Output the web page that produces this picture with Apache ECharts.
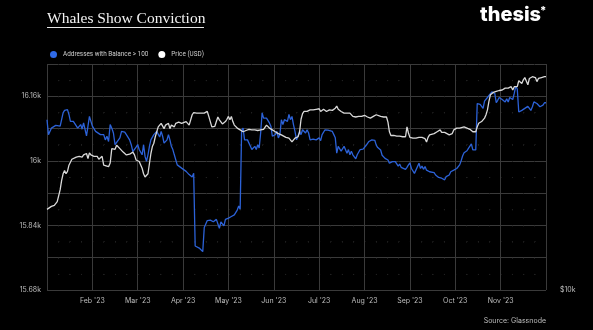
<!DOCTYPE html>
<html><head><meta charset="utf-8">
<script src="https://cdn.jsdelivr.net/npm/echarts@6/dist/echarts.min.js"></script>
<style>html,body{margin:0;padding:0;background:#000}#c{width:593px;height:330px}</style>
</head><body><div id="c"></div>
<script>
// ---- data (year 2023, dates as MM-DD) ----
const monthLabels = ["Jan '23","Feb '23","Mar '23","Apr '23","May '23","Jun '23","Jul '23","Aug '23","Sep '23","Oct '23","Nov '23","Dec '23"];
const seriesNames = ["Addresses with Balance > 100", "Price (USD)"];
const addressData = [
['01-01',16102],['01-02',16065],['01-04',16081],['01-07',16088],['01-10',16086],['01-12',16119],['01-13',16125],['01-15',16127],['01-16',16115],['01-17',16098],['01-19',16098],['01-22',16081],['01-24',16090],['01-25',16079],['01-26',16094],['01-28',16062],['01-30',16110],['01-31',16106],
['02-01',16086],['02-03',16073],['02-04',16073],['02-06',16065],['02-08',16065],['02-09',16052],['02-10',16061],['02-11',16048],['02-12',16090],['02-13',16081],['02-14',16069],['02-15',16040],['02-16',16046],['02-18',16057],['02-19',16073],['02-21',16071],['02-22',16065],['02-24',16052],['02-25',16040],['02-26',16023],['02-27',16019],['02-28',16034],
['03-01',16040],['03-02',16028],['03-04',16015],['03-05',16040],['03-06',16011],['03-07',15999],['03-08',16015],['03-09',16036],['03-10',16052],['03-12',16065],['03-13',16069],['03-14',16073],['03-16',16059],['03-17',16073],['03-18',16061],['03-19',16044],['03-21',16052],['03-22',16065],['03-23',16052],['03-24',16036],['03-25',16028],['03-26',16015],['03-28',15990],['03-31',15982],
['04-01',15978],['04-03',15974],['04-05',15966],['04-07',15960],['04-08',15969],['04-09',15789],['04-12',15783],['04-14',15775],['04-15',15835],['04-17',15852],['04-19',15853],['04-21',15849],['04-23',15855],['04-25',15833],['04-26',15849],['04-28',15839],['04-29',15855],
['05-01',15858],['05-03',15862],['05-05',15866],['05-07',15878],['05-08',15888],['05-09',15880],['05-10',16075],['05-11',16081],['05-12',16052],['05-13',16048],['05-14',16052],['05-16',16036],['05-17',16028],['05-19',16036],['05-20',16028],['05-21',16040],['05-22',16032],['05-23',16069],['05-24',16119],['05-25',16106],['05-27',16106],['05-28',16110],['05-29',16094],['05-30',16086],['05-31',16061],
['06-02',16065],['06-03',16073],['06-04',16057],['06-05',16065],['06-06',16102],['06-07',16090],['06-08',16102],['06-10',16098],['06-11',16115],['06-12',16102],['06-13',16110],['06-14',16090],['06-15',16073],['06-16',16052],['06-17',16061],['06-18',16073],['06-19',16065],['06-20',16077],['06-22',16069],['06-23',16077],['06-24',16069],['06-25',16052],['06-27',16054],['06-29',16052],
['07-01',16057],['07-02',16050],['07-03',16065],['07-05',16077],['07-06',16079],['07-07',16076],['07-08',16077],['07-10',16073],['07-11',16065],['07-12',16057],['07-13',16019],['07-14',16036],['07-15',16034],['07-16',16024],['07-18',16036],['07-19',16032],['07-20',16019],['07-21',16028],['07-22',16015],['07-23',16024],['07-24',16015],['07-26',16005],['07-27',16015],['07-28',16015],['07-29',16028],['07-30',16032],['07-31',16029],
['08-02',16038],['08-04',16048],['08-05',16044],['08-06',16052],['08-07',16048],['08-08',16051],['08-09',16039],['08-10',16033],['08-12',16027],['08-13',16014],['08-14',16010],['08-15',16006],['08-16',16009],['08-17',16002],['08-18',15994],['08-20',15998],['08-21',15994],['08-22',15998],['08-23',15994],['08-24',15987],['08-25',15992],['08-26',15984],['08-27',15986],['08-29',15979],['08-30',15984],['08-31',15990],
['09-01',15995],['09-02',15981],['09-03',15977],['09-04',15969],['09-05',15973],['09-07',15994],['09-08',15981],['09-09',15987],['09-10',15979],['09-11',15986],['09-12',15977],['09-13',15976],['09-14',15973],['09-15',15977],['09-17',15971],['09-18',15965],['09-19',15961],['09-20',15959],['09-21',15959],['09-22',15957],['09-23',15961],['09-24',15953],['09-25',15961],['09-27',15965],['09-28',15973],['09-29',15969],['09-30',15977],
['10-01',15979],['10-02',15981],['10-03',15984],['10-04',15990],['10-05',16000],['10-06',16012],['10-07',16020],['10-08',16023],['10-09',16025],['10-10',16031],['10-11',16035],['10-12',16042],['10-13',16027],['10-14',16023],['10-15',16027],['10-16',16142],['10-17',16142],['10-18',16140],['10-19',16144],['10-20',16130],['10-21',16148],['10-22',16150],['10-23',16157],['10-24',16160],['10-26',16171],['10-27',16171],['10-28',16167],['10-29',16144],['10-30',16150],['10-31',16157],
['11-02',16152],['11-03',16150],['11-04',16146],['11-05',16154],['11-06',16146],['11-07',16157],['11-08',16160],['11-09',16152],['11-10',16167],['11-11',16185],['11-12',16178],['11-13',16121],['11-14',16119],['11-15',16125],['11-16',16121],['11-17',16130],['11-18',16127],['11-19',16135],['11-20',16130],['11-21',16125],['11-22',16134],['11-23',16146],['11-25',16142],['11-26',16142],['11-27',16134],['11-28',16130],['11-29',16138],['11-30',16144],['12-01',16144]
];
const priceData = [
['01-01',16400],['01-04',16700],['01-06',16800],['01-08',17200],['01-10',18500],['01-11',19600],['01-12',20400],['01-13',20800],['01-14',20400],['01-15',20700],['01-16',21500],['01-18',22300],['01-19',22400],['01-21',22600],['01-22',22400],['01-23',22700],['01-25',22600],['01-26',22900],['01-27',22700],['01-28',23100],['01-29',22400],['01-30',23200],['01-31',22900],
['02-01',23000],['02-02',22700],['02-03',22900],['02-04',22700],['02-05',22300],['02-07',22700],['02-08',21500],['02-09',21300],['02-11',21300],['02-12',21800],['02-13',23800],['02-14',23900],['02-15',23700],['02-16',24300],['02-17',24200],['02-18',23800],['02-19',23600],['02-20',23300],['02-21',23200],['02-22',22900],['02-24',23000],['02-25',22900],['02-26',23300],['02-27',22900],['02-28',22200],
['03-02',22000],['03-03',21800],['03-04',21100],['03-05',20400],['03-06',20000],['03-07',19800],['03-08',20400],['03-10',23100],['03-11',24100],['03-12',24600],['03-13',25600],['03-14',26400],['03-15',27200],['03-16',27500],['03-17',27800],['03-19',26900],['03-20',27500],['03-21',27200],['03-22',27800],['03-23',26900],['03-24',27500],['03-26',27200],['03-27',27800],['03-28',28100],['03-29',28000],['03-30',28100],['03-31',27800],
['04-01',27500],['04-03',28100],['04-04',28100],['04-05',27500],['04-07',29300],['04-08',29700],['04-09',29900],['04-10',29600],['04-11',29900],['04-13',29600],['04-14',29900],['04-15',29600],['04-16',29500],['04-17',29900],['04-18',29000],['04-19',28100],['04-20',27200],['04-21',27500],['04-22',27300],['04-23',28100],['04-24',28900],['04-25',28400],['04-27',27700],['04-28',27800],['04-29',28100],['04-30',28500],
['05-01',29000],['05-02',28400],['05-03',29000],['05-04',28100],['05-05',27500],['05-07',27000],['05-08',27000],['05-09',26700],['05-10',26400],['05-11',26400],['05-12',26700],['05-13',26600],['05-15',26800],['05-16',26600],['05-17',26700],['05-18',26600],['05-19',26700],['05-20',26400],['05-21',26600],['05-23',26700],['05-24',26700],['05-25',26800],['05-26',27000],['05-27',27500],['05-28',27500],['05-29',27000],['05-30',27000],['05-31',26700],
['06-02',26400],['06-03',26300],['06-04',26100],['06-05',26200],['06-06',25900],['06-07',25700],['06-09',25500],['06-10',25600],['06-11',25400],['06-12',25100],['06-13',24800],['06-14',24800],['06-15',25400],['06-16',25100],['06-17',25600],['06-18',26300],['06-19',28500],['06-20',29500],['06-21',29900],['06-22',30200],['06-23',29900],['06-24',30200],['06-25',30200],['06-26',29900],['06-27',30200],['06-28',30100],['06-29',30300],['06-30',30500],
['07-01',30400],['07-02',29900],['07-03',30200],['07-04',30300],['07-05',30100],['07-06',29900],['07-07',29900],['07-08',30200],['07-09',30300],['07-10',30100],['07-12',30500],['07-13',30900],['07-14',30300],['07-15',30100],['07-16',29900],['07-17',29700],['07-18',29600],['07-20',29600],['07-21',29700],['07-22',29600],['07-23',29600],['07-24',29000],['07-25',29000],['07-26',28900],['07-28',29000],['07-29',28900],['07-30',29000],['07-31',29300],
['08-01',29200],['08-02',29100],['08-03',28900],['08-04',29000],['08-05',28700],['08-06',28700],['08-07',29000],['08-08',29300],['08-09',29300],['08-10',29100],['08-12',29000],['08-13',29000],['08-14',28900],['08-15',28700],['08-16',28900],['08-17',28000],['08-18',26400],['08-19',25800],['08-20',25700],['08-21',25800],['08-23',25700],['08-24',25600],['08-25',25700],['08-26',25700],['08-27',25600],['08-28',25700],['08-29',25600],['08-30',27200],['08-31',26200],
['09-01',25500],['09-02',25500],['09-03',25400],['09-04',25500],['09-05',25400],['09-07',25500],['09-08',25300],['09-09',25500],['09-10',25400],['09-11',25300],['09-12',24800],['09-13',25500],['09-14',25900],['09-15',25900],['09-17',26100],['09-18',26200],['09-19',26400],['09-20',26600],['09-21',26700],['09-22',26300],['09-23',26200],['09-24',26300],['09-25',26200],['09-27',25900],['09-28',26100],['09-29',26100],['09-30',26700],
['10-01',26700],['10-02',27000],['10-03',27200],['10-04',27000],['10-05',27300],['10-07',27200],['10-08',27000],['10-09',27000],['10-10',26700],['10-11',26800],['10-12',26600],['10-13',26400],['10-15',26400],['10-16',27200],['10-17',27800],['10-18',28100],['10-19',28100],['10-20',28300],['10-21',28700],['10-22',29300],['10-23',30200],['10-24',31800],['10-25',33100],['10-27',33600],['10-28',33400],['10-29',33800],['10-30',33800],['10-31',34000],
['11-02',34100],['11-03',34300],['11-04',34500],['11-05',34500],['11-06',34500],['11-07',34500],['11-08',34800],['11-09',34100],['11-10',34800],['11-12',34800],['11-13',36100],['11-14',36400],['11-15',35500],['11-16',36300],['11-17',36800],['11-18',37100],['11-19',35200],['11-20',36600],['11-21',36300],['11-22',37000],['11-24',36800],['11-25',35900],['11-26',36600],['11-27',37000],['11-28',36800],['11-29',37100],['11-30',37000],['12-01',37000]
];

// date (MM-DD, 2023) -> position on a month-indexed axis (each month equally wide)
function monthPos(md){
  const [m,d] = md.split('-').map(Number);
  const dim = new Date(2023, m, 0).getDate();
  return (m-1) + (d-1)/dim;
}
const toXY = arr => arr.map(([md,v]) => [monthPos(md), v]);

const labelColor = '#bdbdbd';
const gridColor = '#3a3a3a';
const chart = echarts.init(document.getElementById('c'), null, {renderer:'canvas'});
chart.setOption({
  backgroundColor:'#000',
  animation:false,
  title:{
    text:'Whales Show Conviction', left:47, top:11, padding:0,
    textStyle:{color:'#f2f2f2', fontFamily:'Liberation Serif', fontWeight:'normal', fontSize:15.5}
  },
  graphic:[
    {type:'line', shape:{x1:47,y1:27.5,x2:204,y2:27.5}, style:{stroke:'#e6e6e6', lineWidth:1}},
    {type:'text', left:480, top:5, style:{text:'thesis', fill:'#fff', font:'800 20px Inter'}},
    {type:'text', left:540, top:5, style:{text:'*', fill:'#fff', font:'800 11px Inter'}},
    {type:'text', right:47, top:317, style:{text:'Source: Glassnode', fill:labelColor, font:'7px Inter'}}
  ],
  legend:{
    left:45, top:46, icon:'circle', itemWidth:7, itemHeight:7, itemGap:10,
    textStyle:{color:'#cfcfcf', fontSize:6.4, fontFamily:'Roboto', padding:[0,0,0,1]},
    data:[{name:seriesNames[0], itemStyle:{color:'#2f6ae8'}}, {name:seriesNames[1], itemStyle:{color:'#ffffff'}}]
  },
  grid:{left:47, right:47, top:64, bottom:40},
  xAxis:{
    type:'value', min:0, max:11, interval:1,
    axisLine:{show:false}, axisTick:{show:false},
    splitLine:{show:true, lineStyle:{color:gridColor, width:1}},
    minorTick:{show:false, splitNumber:4},
    minorSplitLine:{show:true, lineStyle:{color:'#222', width:1, type:[1,15.15]}},
    axisLabel:{color:labelColor, fontSize:7, fontFamily:'Inter', margin:7,
      formatter:v => (v>=1 && v<=10) ? monthLabels[v] : ''}
  },
  yAxis:[
    {
      type:'value', min:15680, max:16240, interval:80, position:'left',
      axisLine:{show:false}, axisTick:{show:false},
      splitLine:{show:true, lineStyle:{color:gridColor, width:1}},
      minorTick:{show:false, splitNumber:2},
      minorSplitLine:{show:true, lineStyle:{color:'#222', width:1, type:[1,10.34]}},
      axisLabel:{color:labelColor, fontSize:7, fontFamily:'Inter', margin:6,
        formatter:v => ((v-15680)%160===0) ? (Math.round(v/10)/100)+'k' : ''}
    },
    {
      type:'log', logBase:10, min:10000, max:40000, position:'right',
      axisLine:{show:false}, axisTick:{show:false}, splitLine:{show:false},
      axisLabel:{color:labelColor, fontSize:7, fontFamily:'Inter', margin:14,
        formatter:v => Math.abs(v-10000)<1 ? '$10k' : ''}
    }
  ],
  series:[
    {name:seriesNames[0], type:'line', yAxisIndex:0, data:toXY(addressData), showSymbol:false,
     lineStyle:{color:'#2c62d8', width:1.3}, itemStyle:{color:'#2f6ae8'}},
    {name:seriesNames[1], type:'line', yAxisIndex:1, data:toXY(priceData), showSymbol:false,
     lineStyle:{color:'#d9d9d9', width:1.3}, itemStyle:{color:'#ffffff'}}
  ]
});
</script></body></html>
